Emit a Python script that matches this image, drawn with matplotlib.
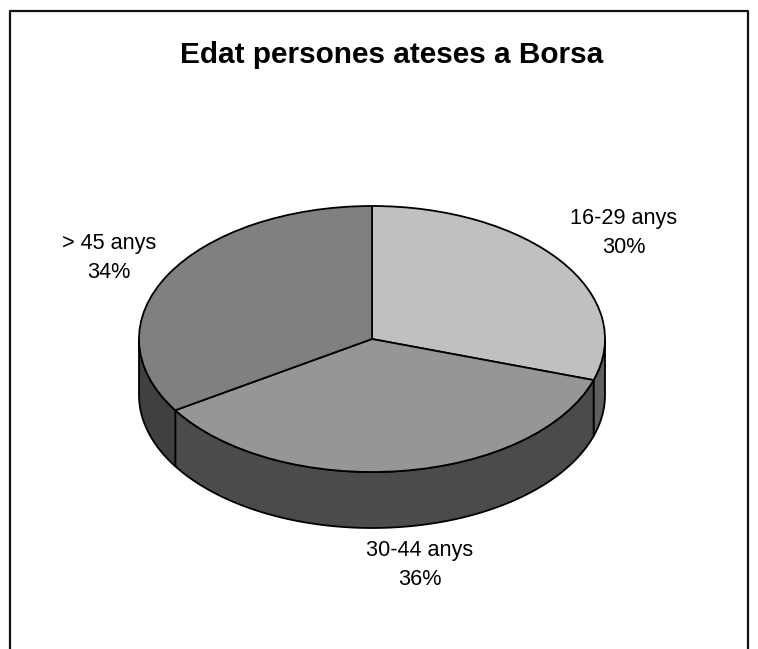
import matplotlib
matplotlib.use('Agg')
import matplotlib.pyplot as plt
import numpy as np
from matplotlib.lines import Line2D
from matplotlib.patches import Polygon

categories = ['16-29 anys', '30-44 anys', '> 45 anys']
percents = [30, 36, 34]
top_colors = ['#c0c0c0', '#969696', '#808080']
wall_colors = ['#606060', '#4b4b4b', '#404040']

W, H = 758, 649
cx, cy = 372, 339
rx, ry = 233, 133
depth = 56 / ry
lw = 1.3

plt.rcParams['font.family'] = ['Liberation Sans', 'DejaVu Sans']

fig = plt.figure(figsize=(W / 100, H / 100), dpi=100)
ax = fig.add_axes([0, 0, 1, 1])

ax.pie(percents, colors=top_colors, startangle=90, counterclock=False, radius=1,
       wedgeprops={'edgecolor': 'black', 'linewidth': lw, 'zorder': 3})

# pared lateral del pastis, nomes la part de davant (de -180 a 0 graus)
start = 90.0
for p, col in zip(percents, wall_colors):
    end = start - p * 3.6
    lo, hi = max(end, -180), min(start, 0)
    if hi > lo:
        t = np.radians(np.linspace(lo, hi, 80))
        xs = np.cos(t)
        ys = np.sin(t)
        pts = np.r_[np.c_[xs, ys], np.c_[xs[::-1], ys[::-1] - depth]]
        ax.add_patch(Polygon(pts, closed=True, facecolor=col, edgecolor='black',
                             linewidth=lw, zorder=2))
    start = end

ax.set_aspect('auto')
ax.set_xlim((0 - cx) / rx, (W - cx) / rx)
ax.set_ylim((cy - H) / ry, cy / ry)
ax.axis('off')

# marc del grafic, obert per baix
fig.add_artist(Line2D([9.5 / W, 9.5 / W, 748 / W, 748 / W],
                      [0, 1 - 11 / H, 1 - 11 / H, 0], color='#111111', linewidth=1.6))

fig.text(392 / W, 1 - 55 / H, 'Edat persones ateses a Borsa', ha='center', va='center',
         fontsize=21.4, fontweight='bold')

label_pos = [(624, 233), (420, 565), (109, 258)]
for name, p, (x, y) in zip(categories, percents, label_pos):
    fig.text(x / W, 1 - y / H, f'{name}\n{p}%', ha='center', va='center',
             fontsize=15.6, linespacing=1.56)

fig.savefig('out.png', dpi=100)
